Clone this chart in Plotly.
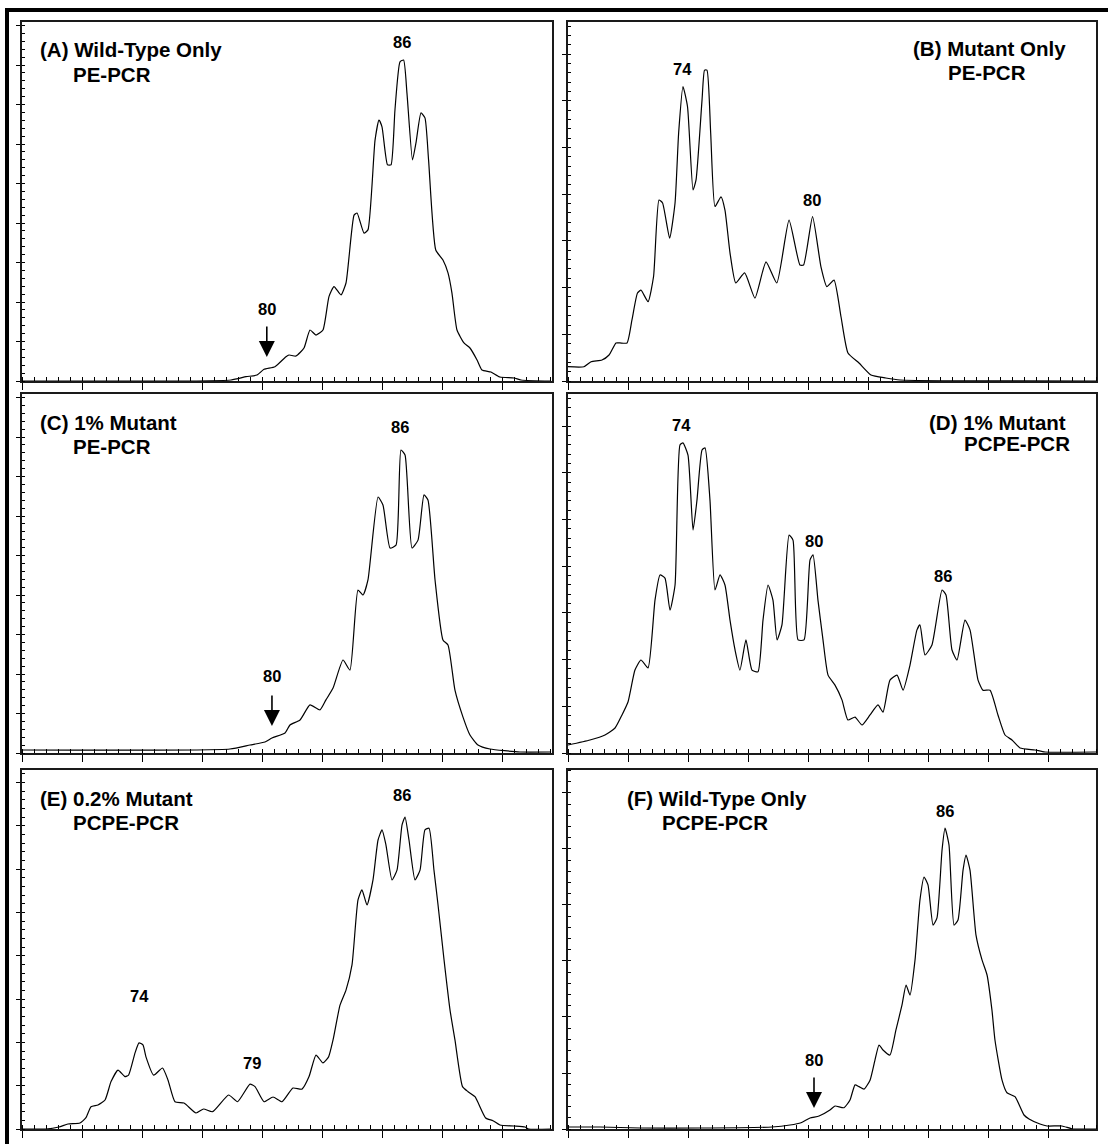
import plotly.graph_objects as go

# Electropherogram traces: x in scan units (one minor tick = 1 unit),
# y as percent of full scale.

# (A) Wild-Type Only, PE-PCR
a_x = [0, 17.42, 18.67, 19.58, 20.17, 21.08, 22.0, 22.25, 22.83, 23.5, 24.0, 24.5, 25.08,
       25.58, 26.0, 26.58, 27.0, 27.67, 27.92, 28.5, 28.83, 29.42, 29.75, 30.0, 30.46,
       30.75, 31.08, 31.5, 31.8, 32.08, 32.54, 32.83, 33.25, 33.58, 33.88, 34.48, 35.08,
       35.5, 35.83, 36.25, 36.83, 37.33, 37.92, 38.33, 39.08, 39.83, 41.0, 41.58, 44.1]
a_y = [0, 0.28, 1.2, 1.67, 3.26, 3.98, 6.77, 7.24, 6.96, 9.19, 14.2, 12.8, 14.2,
       23.5, 26.3, 24.0, 27.3, 46.2, 46.8, 41.2, 42.1, 67.1, 72.7, 70.8, 60.2,
       60.2, 75.5, 88.9, 89.4, 80.2, 61.6, 66.3, 74.7, 73.3, 61.6, 36.5, 33.7,
       30.1, 24.5, 14.2, 10.6, 9.19, 5.85, 3.06, 2.51, 1.11, 0.84, 0.28, 0]

# (B) Mutant Only, PE-PCR
b_x = [0, 1.33, 1.92, 2.83, 3.42, 4.0, 4.33, 4.92, 5.33, 5.79, 6.08, 6.67, 7.13, 7.58,
       7.88, 8.47, 8.92, 9.22, 9.58, 9.96, 10.42, 10.67, 11.17, 11.38, 11.58, 11.89,
       12.25, 12.75, 13.08, 13.5, 13.98, 14.72, 15.58, 16.5, 17.4, 18.42, 19.33, 19.63,
       20.38, 21.08, 21.57, 22.17, 22.75, 23.33, 24.25, 25.25, 26.48, 27.67, 44.0]
b_y = [3.98, 3.98, 5.38, 5.85, 7.24, 10.6, 10.6, 10.6, 17.0, 24.5, 25.3, 22.1, 29.1, 50.4,
       49.6, 39.8, 49.6, 69.1, 82.0, 76.4, 53.2, 56.0, 78.3, 86.6, 86.6, 69.1,
       48.6, 51.3, 47.6, 35.7, 27.3, 30.1, 23.1, 33.2, 27.3, 44.8, 32.3, 32.3,
       45.8, 31.8, 26.3, 28.1, 17.9, 7.8, 5.0, 1.67, 0.84, 0.28, 0]

# (C) 1% Mutant, PE-PCR
c_x = [0, 17.33, 19.0, 20.25, 20.83, 21.92, 22.33, 23.17, 24.0, 24.83, 25.33, 25.92,
       26.75, 27.33, 28.0, 28.42, 28.83, 29.67, 30.08, 30.67, 31.17, 31.58, 31.92, 32.5,
       33.0, 33.5, 33.83, 34.42, 35.08, 35.5, 36.08, 36.75, 37.33, 38.0, 39.0, 41.5, 44.1]
c_y = [0.84, 1.11, 2.23, 3.06, 4.18, 5.57, 7.8, 9.19, 13.4, 12.0, 14.8, 18.1,
       25.9, 23.1, 45.4, 44.0, 48.2, 71.3, 69.1, 57.1, 57.9, 84.4, 83.0, 57.1,
       59.3, 71.9, 70.5, 48.2, 31.5, 30.1, 17.5, 10.0, 5.01, 2.23, 1.11, 0.28, 0.28]

# (D) 1% Mutant, PCPE-PCR
d_x = [0, 1.83, 3.08, 3.92, 4.5, 5.0, 5.58, 6.08, 6.67, 7.25, 7.67, 8.08, 8.5, 8.92,
       9.33, 9.58, 10.0, 10.42, 10.75, 11.17, 11.42, 11.83, 12.25, 12.67, 13.08, 13.5,
       13.92, 14.33, 14.83, 15.33, 15.83, 16.25, 16.67, 17.08, 17.42, 17.83, 18.42,
       18.75, 19.17, 19.67, 20.17, 20.42, 20.83, 21.25, 21.67, 22.25, 22.83, 23.33,
       23.92, 24.5, 25.17, 25.83, 26.25, 26.83, 27.42, 27.92, 28.5, 29.08, 29.33,
       29.75, 30.33, 31.17, 31.5, 32.0, 32.42, 33.08, 33.5, 34.17, 34.58, 35.17,
       35.83, 36.42, 37.0, 37.67, 38.92, 39.75, 44.0]
d_y = [2.23, 3.62, 5.01, 6.96, 10.6, 14.2, 23.1, 25.9, 23.7, 42.6, 49.6, 48.7, 39.8, 46.8,
       85.8, 86.4, 83.0, 62.1, 70.5, 84.4, 85.0, 70.5, 45.4, 49.6, 46.8, 37.0,
       28.7, 23.1, 31.5, 23.1, 22.6, 37.0, 46.8, 42.6, 31.5, 35.7, 60.7,
       59.3, 31.5, 31.5, 53.8, 55.2, 42.6, 31.5, 21.7, 18.9, 14.8, 9.19,
       10.0, 7.8, 10.6, 13.4, 11.4, 20.3, 21.7, 17.5, 24.5, 34.3, 35.7,
       27.3, 30.1, 45.4, 44.0, 28.7, 25.9, 37.0, 34.3, 20.3, 17.5, 17.5,
       10.6, 5.01, 3.62, 1.39, 0.84, 0.28, 0.28]

# (E) 0.2% Mutant, PCPE-PCR
e_x = [0, 1.98, 3.08, 3.83, 4.83, 5.33, 5.75, 6.33, 6.92, 7.42, 8.0, 8.58, 8.88, 9.42,
       9.75, 10.08, 10.33, 10.97, 11.71, 12.17, 12.75, 13.5, 14.5, 15.13, 15.88, 17.22,
       17.96, 19.0, 19.42, 20.17, 20.92, 21.67, 22.58, 23.33, 23.92, 24.5, 25.08, 25.55,
       25.92, 26.5, 27.0, 27.5, 28.0, 28.33, 28.75, 29.25, 29.67, 30.0, 30.33, 30.83,
       31.25, 31.67, 31.92, 32.25, 32.75, 33.17, 33.58, 33.92, 34.33, 34.67, 35.17,
       35.67, 36.08, 36.71, 37.17, 37.75, 38.64, 39.25, 39.83, 41.0, 41.92, 42.22, 44.1]
e_y = [0, 0, 0.56, 1.39, 1.67, 3.15, 6.21, 6.69, 8.08, 13.2, 16.4, 14.6, 15.0, 21.2,
       24.0, 23.4, 20.1, 15.0, 17.0, 13.6, 7.6, 7.24, 4.46, 5.57, 4.82, 9.47,
       7.6, 12.5, 11.8, 7.6, 8.91, 7.6, 11.4, 11.1, 14.6, 20.6, 18.4, 20.1,
       24.8, 34.5, 38.7, 45.7, 63.8, 66.6, 62.4, 69.4, 80.5, 83.3, 79.1, 69.4,
       72.1, 84.7, 86.9, 80.5, 69.4, 72.1, 83.3, 83.8, 72.1, 62.4, 47.1,
       33.1, 24.8, 11.8, 10.4, 9.0, 3.06, 2.31, 1.11, 0.84, 0.56, 0, 0]

# (F) Wild-Type Only, PCPE-PCR
f_x = [0, 2.67, 6.0, 11.0, 17.0, 18.5, 19.42, 20.17, 20.92, 21.83, 22.25, 23.0, 23.5,
       23.92, 24.25, 24.67, 25.17, 25.58, 25.92, 26.25, 26.83, 27.33, 27.83, 28.17,
       28.5, 28.92, 29.33, 29.67, 30.0, 30.42, 30.75, 31.17, 31.42, 31.75, 32.17, 32.5,
       32.92, 33.17, 33.5, 34.0, 34.5, 34.92, 35.33, 35.58, 36.17, 36.58, 37.25, 38.0,
       38.42, 39.33, 39.92, 41.17, 42.05, 44.0]
f_y = [0.56, 0.56, 0.28, 0.28, 0.56, 1.11, 1.75, 3.06, 3.62, 5.29, 6.4, 5.93, 8.08,
       12.3, 11.8, 11.1, 13.6, 19.2, 23.4, 22.0, 20.6, 27.6, 34.5, 40.1,
       37.3, 47.1, 63.8, 70.2, 68.0, 56.8, 58.8, 77.7, 83.8, 79.1, 56.8, 58.2,
       72.1, 76.3, 72.1, 54.0, 47.1, 42.9, 33.1, 24.8, 13.6, 10.1, 9.0, 3.9,
       2.79, 1.39, 0.84, 0.84, 0, 0]

# Panel text
titles = [
    ("(A) Wild-Type Only", "PE-PCR"),
    ("(B) Mutant Only", "PE-PCR"),
    ("(C) 1% Mutant", "PE-PCR"),
    ("(D) 1% Mutant", "PCPE-PCR"),
    ("(E) 0.2% Mutant", "PCPE-PCR"),
    ("(F) Wild-Type Only", "PCPE-PCR"),
]
peak_labels = [
    [("86", 31.67, 94.4)],
    [("74", 9.58, 86.9), ("80", 20.33, 50.4)],
    [("86", 31.5, 90.8)],
    [("74", 9.42, 91.4), ("80", 20.5, 59.1), ("86", 31.25, 49.3)],
    [("86", 31.67, 93.0), ("74", 9.75, 37.0), ("79", 19.17, 18.4)],
    [("86", 31.42, 88.6)],
]
# 80-mer marker arrows: (x, arrow tip y, label y)
markers = {0: (20.4, 6.7, 20.1), 2: (20.83, 7.5, 21.4), 5: (20.5, 5.85, 19.2)}

series = [(a_x, a_y), (b_x, b_y), (c_x, c_y), (d_x, d_y), (e_x, e_y), (f_x, f_y)]

W, H = 1108, 1144
col_px = [(22, 551.5), (568, 1096)]
row_px = [(22, 381), (394, 753), (770, 1129)]
y_major = [11.0, 13.0, 11.0, 13.0, 12.06, 15.6]

# title placement per panel: (line-1 x, anchor, line-1 offset from top,
#                             line-2 x, line-2 offset from top)
title_pos = [
    (38, "left", 27, 71, 52),
    (1068, "right", 26, 946, 50),
    (38, "left", 29, 71, 53),
    (1068, "right", 29, 962, 50),
    (38, "left", 28, 71, 52),
    (625, "left", 28, 660, 52),
]

FONT = "Liberation Sans, Arial, sans-serif"
TITLE_SIZE = 20.5
LABEL_SIZE = 16.5

fig = go.Figure()
annotations = []

for i, (xs, ys) in enumerate(series):
    n = i + 1
    sfx = "" if n == 1 else str(n)
    col = i % 2
    row = i // 2
    x0, x1 = col_px[col]
    top, bot = row_px[row]
    xr = (x1 - x0) / 12.0
    h = bot - top

    fig.add_trace(go.Scatter(
        x=xs, y=ys, mode="lines",
        line=dict(color="black", width=1.2, shape="spline", smoothing=0.5),
        xaxis="x" + sfx, yaxis="y" + sfx,
        showlegend=False, hoverinfo="skip",
    ))

    common = dict(
        showline=True, mirror=True, linecolor="#1a1a1a", linewidth=1.5,
        showgrid=False, zeroline=False, showticklabels=False,
        ticks="outside", tickcolor="black", tickwidth=1.3,
    )
    fig.update_layout(**{
        "xaxis" + sfx: dict(
            common, domain=[x0 / W, x1 / W], range=[0, xr],
            anchor="y" + sfx, tick0=0, dtick=5, ticklen=7,
            minor=dict(ticks="inside", dtick=1, ticklen=4, tickcolor="black",
                       tickwidth=1, showgrid=False),
        ),
        "yaxis" + sfx: dict(
            common, domain=[(H - bot) / H, (H - top) / H], range=[0, 100],
            anchor="x" + sfx, tick0=0, dtick=y_major[i], ticklen=4,
            minor=dict(ticks="inside", dtick=y_major[i] / 5, ticklen=3,
                       tickcolor="black", tickwidth=1, showgrid=False),
        ),
    })

    # Panel titles (two lines)
    t1, t2 = titles[i]
    px1, anc1, dy1, px2, dy2 = title_pos[i]
    tfont = dict(family=FONT, size=TITLE_SIZE, color="black")
    annotations.append(dict(xref="x%s domain" % sfx, yref="y%s domain" % sfx,
                            x=(px1 - x0) / (x1 - x0), y=(h - dy1) / h,
                            text="<b>%s</b>" % t1, showarrow=False,
                            xanchor=anc1, yanchor="middle", font=tfont))
    annotations.append(dict(xref="x%s domain" % sfx, yref="y%s domain" % sfx,
                            x=(px2 - x0) / (x1 - x0), y=(h - dy2) / h,
                            text="<b>%s</b>" % t2, showarrow=False,
                            xanchor="left", yanchor="middle", font=tfont))

    # Fragment-size labels over peaks
    lfont = dict(family=FONT, size=LABEL_SIZE, color="black")
    for txt, lx, ly in peak_labels[i]:
        annotations.append(dict(xref="x" + sfx, yref="y" + sfx, x=lx, y=ly,
                                text="<b>%s</b>" % txt, showarrow=False, font=lfont))

    # 80-mer position marker
    if i in markers:
        mx, tip, ly = markers[i]
        annotations.append(dict(xref="x" + sfx, yref="y" + sfx, x=mx, y=ly,
                                text="<b>80</b>", showarrow=False, font=lfont))
        annotations.append(dict(xref="x" + sfx, yref="y" + sfx, x=mx, y=tip,
                                ax=0, ay=-32, text="", showarrow=True,
                                arrowhead=2, arrowsize=2, arrowwidth=1.6,
                                arrowcolor="black"))

fig.update_layout(
    width=W, height=H, autosize=False,
    margin=dict(l=0, r=0, t=0, b=0),
    paper_bgcolor="white", plot_bgcolor="white",
    annotations=annotations,
    shapes=[dict(type="rect", xref="paper", yref="paper",
                 x0=7 / W, x1=1.05, y0=-0.05, y1=(H - 10) / H,
                 line=dict(color="black", width=4), fillcolor="rgba(0,0,0,0)")],
)

fig.write_html("out.html")
